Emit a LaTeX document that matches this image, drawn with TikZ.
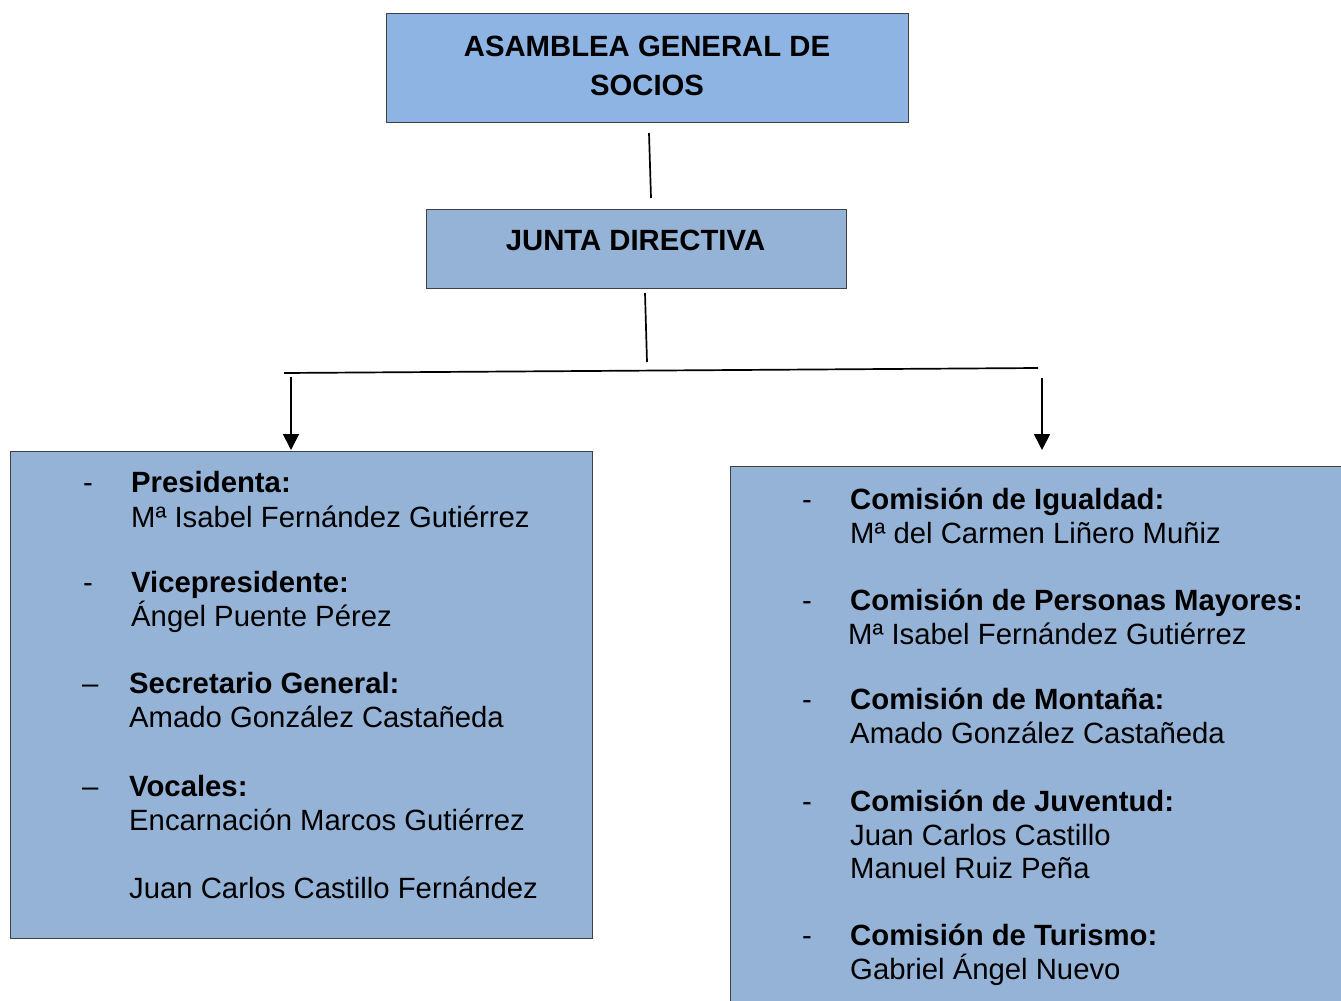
\documentclass[tikz,border=0pt]{standalone}
\usepackage{fontspec}
\setmainfont{Liberation Sans}
\usetikzlibrary{arrows.meta}
\definecolor{boxA}{HTML}{8EB4E3}
\definecolor{boxB}{HTML}{95B3D7}
\definecolor{edge}{HTML}{404040}
\begin{document}
\begin{tikzpicture}[x=1pt,y=-1pt,
  box/.style={draw=edge, line width=1pt, inner sep=0pt, outer sep=0pt, anchor=north west},
  txt/.style={anchor=base west, inner sep=0pt, font=\fontsize{29.3}{34}\selectfont},
  bold/.style={anchor=base west, inner sep=0pt, font=\fontsize{29.3}{34}\selectfont\bfseries},
  conn/.style={line width=1.7pt, black},
  arr/.style={conn, -{Triangle[width=16pt,length=16pt]}}]
\useasboundingbox (0,0) rectangle (1341,1001);
\clip (0,0) rectangle (1341,1001);
\fill[white] (0,0) rectangle (1341,1001);

% boxes
\node[box, fill=boxA, minimum width=522pt, minimum height=109pt] (asamblea) at (386,13) {};
\node[box, fill=boxB, minimum width=420pt, minimum height=79pt] (junta) at (426,209) {};
\node[box, fill=boxB, minimum width=582pt, minimum height=487pt] (cargos) at (10,451) {};
\node[box, fill=boxB, minimum width=640pt, minimum height=560pt] (comis) at (730,466) {};

% titles
\node[bold, anchor=base] (t1) at (647,56) {ASAMBLEA GENERAL DE};
\node[bold, anchor=base] (t2) at (647,95) {SOCIOS};
\node[bold, anchor=base] (t3) at (635.5,250) {JUNTA DIRECTIVA};

% connectors
\coordinate (a1) at (649,133);
\coordinate (a2) at (651,198);
\coordinate (b1) at (645,293);
\coordinate (b2) at (647,362);
\coordinate (h1) at (284,373);
\coordinate (h2) at (1038,368);
\coordinate (l1) at (291,377);
\coordinate (l2) at (291,450);
\coordinate (r1) at (1042,378);
\coordinate (r2) at (1042,450);
\draw[conn] (a1) -- (a2);
\draw[conn] (b1) -- (b2);
\draw[conn] (h1) -- (h2);
\draw[arr] (l1) -- (l2);
\draw[arr] (r1) -- (r2);

% left box
\node[txt] (d1) at (83,492) {-};
\node[bold] (p1) at (131,492) {Presidenta:};
\node[txt] (p2) at (131,527) {Mª Isabel Fernández Gutiérrez};
\node[txt] (d2) at (83,592) {-};
\node[bold] (v1) at (131,592) {Vicepresidente:};
\node[txt] (v2) at (131,626) {Ángel Puente Pérez};
\node[txt] (d3) at (82,693) {–};
\node[bold] (s1) at (129,693) {Secretario General:};
\node[txt] (s2) at (129,727) {Amado González Castañeda};
\node[txt] (d4) at (82,796) {–};
\node[bold] (o1) at (129,796) {Vocales:};
\node[txt] (o2) at (129,830) {Encarnación Marcos Gutiérrez};
\node[txt] (o3) at (129,898) {Juan Carlos Castillo Fernández};

% right box
\node[txt] (e1) at (802,509) {-};
\node[bold] (c1) at (850,509) {Comisión de Igualdad:};
\node[txt] (c2) at (850,543) {Mª del Carmen Liñero Muñiz};
\node[txt] (e2) at (802,610) {-};
\node[bold] (m1) at (850,610) {Comisión de Personas Mayores:};
\node[txt] (m2) at (848,644) {Mª Isabel Fernández Gutiérrez};
\node[txt] (e3) at (802,709) {-};
\node[bold] (n1) at (850,709) {Comisión de Montaña:};
\node[txt] (n2) at (850,743) {Amado González Castañeda};
\node[txt] (e4) at (802,811) {-};
\node[bold] (j1) at (850,811) {Comisión de Juventud:};
\node[txt] (j2) at (850,845) {Juan Carlos Castillo};
\node[txt] (j3) at (850,878) {Manuel Ruiz Peña};
\node[txt] (e5) at (802,945) {-};
\node[bold] (u1) at (850,945) {Comisión de Turismo:};
\node[txt] (u2) at (850,979) {Gabriel Ángel Nuevo};
\end{tikzpicture}
\end{document}
